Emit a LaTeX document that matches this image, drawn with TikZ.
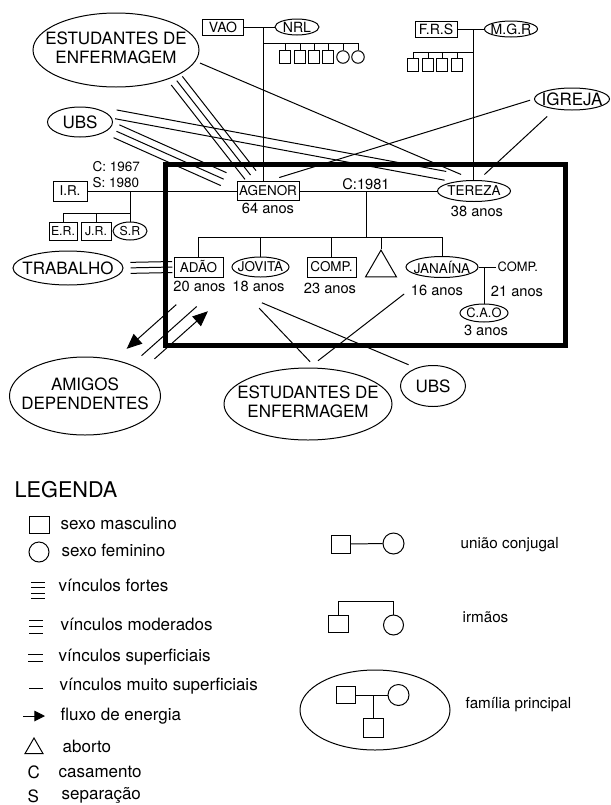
\documentclass[tikz,border=0pt]{standalone}
\usepackage{fontspec}
\setmainfont{TeX Gyre Heros}
\usetikzlibrary{calc,shapes.geometric,arrows.meta}

\newcommand\zw[1]{\makebox[0pt]{#1}}
\newcommand\vinc[4][]{\foreach \o in {#2}{\draw[#1] ($(#3)!\o!90:(#4)$) -- ($(#4)!\o!-90:(#3)$);}}

\begin{document}
\begin{tikzpicture}[x=0.03cm,y=-0.03cm,line width=0.85pt,
    tam/.style 2 args={minimum width=#1*0.03cm,minimum height=#2*0.03cm},
    masc/.style={draw,rectangle,inner sep=0pt},
    fem/.style={draw,ellipse,inner sep=0pt},
    ext/.style={draw,ellipse,inner sep=0pt,font=\fontsize{14.5}{16.2}\selectfont},
    nome/.style={font=\fontsize{11.5}{12}\selectfont},
    idade/.style={inner sep=1pt,font=\fontsize{12.5}{13}\selectfont},
    filho/.style={draw,rectangle,inner sep=0pt,tam={11}{13}},
    filha/.style={draw,circle,inner sep=0pt,minimum size=12.5*0.03cm},
    leg/.style={anchor=west,inner sep=1pt,font=\fontsize{14.5}{16}\selectfont},
    legd/.style={anchor=west,inner sep=1pt,font=\fontsize{13}{14}\selectfont},
    fluxo/.style={-{Triangle[length=13pt,width=11pt]}}]
  \useasboundingbox (0,0) rectangle (611,805);

  % Moldura
  \draw[line width=3.6pt] (165.5,164.5) rectangle (565.5,345.5);

  % Familia principal
  \node[masc,nome,tam={62}{19}] (agenor) at (268,191) {AGENOR};
  \node[idade] (a64) at (268,208.5) {64 anos};
  \node[fem,nome,tam={73}{21}] (tereza) at (474,191) {\zw{TEREZA}};
  \node[idade] (a38) at (477,211) {38 anos};
  \draw (agenor) -- (tereza);
  \node[idade] (c81) at (366,184) {C:1981};
  \coordinate (m1) at (366,191);
  \coordinate (m2) at (366,237);
  \draw (m1) -- (m2);

  \node[masc,nome,tam={49}{20}] (adao) at (198.5,267) {ADÃO};
  \node[idade] (a20) at (199.5,286.7) {20 anos};
  \node[fem,nome,tam={57}{20}] (jovita) at (260.5,267) {\zw{JOVITA}};
  \node[idade] (a18) at (258.5,286.7) {18 anos};
  \node[masc,nome,tam={49}{20}] (comp) at (331.5,267) {COMP.};
  \node[idade] (a23) at (330,288) {23 anos};
  \node[draw,regular polygon,regular polygon sides=3,inner sep=0pt,
        minimum size=35.8*0.03cm] (ab) at (381,268) {};
  \node[fem,nome,tam={72}{21}] (janaina) at (442,267) {\zw{JANAÍNA}};
  \node[idade] (a16) at (437,290) {16 anos};
  \draw (adao.north |- m2) -- (janaina.north |- m2);
  \foreach \n in {adao,jovita,comp,ab,janaina}
    \draw (\n.north) -- (\n.north |- m2);

  \node[idade,anchor=west,font=\fontsize{11}{12}\selectfont] (compt) at (496,267) {COMP.};
  \node[idade] (a21) at (517,291.7) {21 anos};
  \draw (janaina) -- (compt);
  \coordinate (j1) at (484,267);
  \node[fem,tam={48}{18},font=\fontsize{11}{12}\selectfont] (cao) at (484,313) {\zw{C.A.O}};
  \node[idade] (a3) at (486,330) {3 anos};
  \draw (j1) -- (cao.north);

  % Familia de Agenor
  \node[masc,tam={41}{16},font=\fontsize{12}{12}\selectfont] (vao) at (223,27) {VAO};
  \node[fem,tam={44}{16},font=\fontsize{12}{12}\selectfont] (nrl) at (297,27) {\zw{NRL}};
  \draw (vao) -- (nrl);
  \coordinate (v1) at (263,27);
  \coordinate (v2) at (263,43);
  \draw (v1) -- (v1 |- agenor.north);
  \foreach \x/\t in {285/filho,300/filho,314/filho,328/filho,343/filha,358/filha}{
    \node[\t] (n\x) at (\x,57) {};
    \draw (n\x.north) -- (n\x.north |- v2);
  }
  \draw (v2) -- (n358.north |- v2);

  % Familia de Tereza
  \node[masc,tam={42}{16},font=\fontsize{12}{12}\selectfont] (frs) at (436,29) {F.R.S};
  \node[fem,tam={53}{16},font=\fontsize{12}{12}\selectfont] (mgr) at (511,29) {\zw{M.G.R}};
  \draw (frs) -- (mgr);
  \coordinate (f1) at (473,29);
  \coordinate (f2) at (473,52);
  \draw (f1) -- (f1 |- tereza.north);
  \foreach \x in {413,428,442,457}{
    \node[filho] (r\x) at (\x,64.5) {};
    \draw (r\x.north) -- (r\x.north |- f2);
  }
  \draw (f2) -- (r413.north |- f2);

  % Primeira uniao de Agenor
  \node[masc,nome,tam={34}{20}] (ir) at (70,191) {I.R.};
  \node[idade,anchor=west,font=\fontsize{11.5}{12}\selectfont] (c67) at (91,166.5) {C: 1967};
  \node[idade,anchor=west,font=\fontsize{11.5}{12}\selectfont] (s80) at (91,183) {S: 1980};
  \draw (ir) -- (agenor);
  \coordinate (i1) at (130,191);
  \coordinate (i2) at (130,213);
  \node[masc,tam={28}{18},font=\fontsize{10.5}{11}\selectfont] (er) at (63,231) {E.R.};
  \node[masc,tam={30}{18},font=\fontsize{10.5}{11}\selectfont] (jr) at (96,231) {J.R.};
  \node[fem,tam={34}{18},font=\fontsize{10.5}{11}\selectfont] (sr) at (130,231) {\zw{S.R}};
  \draw (i1) -- (sr.north);
  \draw (er.north |- i2) -- (i2);
  \draw (er.north) -- (er.north |- i2);
  \draw (jr.north) -- (jr.north |- i2);

  % Rede externa
  \node[ext,tam={166}{74}] (est1) at (116,50)
    {\zw{\begin{tabular}{@{}c@{}}ESTUDANTES DE\\ENFERMAGEM\end{tabular}}};
  \node[ext,tam={65}{30}] (ubs1) at (80,122) {\zw{UBS}};
  \node[ext,tam={75}{22}] (igreja) at (572,99) {\zw{IGREJA}};
  \node[ext,tam={110}{34}] (trab) at (68,268) {\zw{TRABALHO}};
  \node[ext,tam={151}{78}] (amigos) at (85,396)
    {\zw{\begin{tabular}{@{}c@{}}AMIGOS\\DEPENDENTES\end{tabular}}};
  \node[ext,tam={168}{72}] (est2) at (308,404)
    {\zw{\begin{tabular}{@{}c@{}}ESTUDANTES DE\\ENFERMAGEM\end{tabular}}};
  \node[ext,tam={65}{41}] (ubs2) at (433,386) {\zw{UBS}};

  % Vinculos
  \vinc[shorten <=4pt,shorten >=6.5pt]{-6pt,0pt,6pt}{est1.-25}{agenor.142}
  \vinc[shorten <=6pt,shorten >=12pt]{-6pt,0pt,6pt}{ubs1.-12}{agenor.169}
  \vinc[shorten <=8.5pt,shorten >=20pt]{-3.8pt,3.8pt}{ubs1.20}{tereza.117}
  \draw[shorten <=4pt,shorten >=12pt] (est1.-8) -- (tereza.north);
  \draw[shorten <=3.5pt,shorten >=10pt] (igreja.west) -- (agenor.north);
  \draw[shorten <=9pt,shorten >=7pt] (igreja.211) -- (tereza.68);
  \vinc[shorten <=6pt,shorten >=1pt]{-4.7pt,0pt,4.7pt}{trab.east}{adao.west}
  \draw[shorten <=17pt,shorten >=7pt] (a18.208) -- (est2.78);
  \draw[shorten <=20pt,shorten >=7pt] (a18.201) -- (ubs2.133);
  \draw[shorten <=5.5pt,shorten >=9.4pt] (a16.west) -- (est2.88);

  % Fluxo de energia
  \draw[fluxo,shorten <=28.4pt,shorten >=6pt]
    ($(a20.-31)!12.8pt!-90:(amigos.34)$) -- ($(amigos.34)!12.8pt!90:(a20.-31)$);
  \draw[shorten <=16.5pt,shorten >=11.6pt] (a20.-31) -- (amigos.34);
  \draw[fluxo,shorten <=18pt,shorten >=12pt]
    ($(amigos.34)!9.4pt!-90:(a20.-31)$) -- ($(a20.-31)!9.4pt!90:(amigos.34)$);

  % Legenda
  \node[leg,font=\fontsize{18.5}{20}\selectfont] (tit) at (13,490) {LEGENDA};
  \node[draw,inner sep=0pt,tam={20}{17}] (lm) at (39,525) {};
  \node[leg] at (59,523) {sexo masculino};
  \node[draw,circle,inner sep=0pt,minimum size=20*0.03cm] (lf) at (39,552) {};
  \node[leg] at (60,550) {sexo feminino};
  \foreach \y in {582,587.5,593,598.5} \draw (31,\y) -- (45,\y);
  \node[leg] at (57,585) {vínculos fortes};
  \foreach \y in {620,626.5,633} \draw (29,\y) -- (43,\y);
  \node[leg] at (59,624) {vínculos moderados};
  \foreach \y in {654,661} \draw (28,\y) -- (43,\y);
  \node[leg] at (57,657) {vínculos superficiais};
  \draw (29,688) -- (43,688);
  \node[leg] at (58,686) {vínculos muito superficiais};
  \draw[-{Triangle[length=9pt,width=9pt]}] (23,716) -- (45,716);
  \node[leg] at (59,716) {fluxo de energia};
  \node[draw,regular polygon,regular polygon sides=3,inner sep=0pt,
        minimum size=20.8*0.03cm] (la) at (34,748.4) {};
  \node[leg] at (61,746) {aborto};
  \node[leg] at (26,772) {C};
  \node[leg] at (57,772) {casamento};
  \node[leg] at (26,796) {S};
  \node[leg] at (60,795) {separação};

  \node[draw,inner sep=0pt,tam={19}{18}] (uq) at (340.5,544) {};
  \node[draw,circle,inner sep=0pt,minimum size=21*0.03cm] (uc) at (393.5,543.5) {};
  \draw (uq) -- (uc);
  \node[legd] at (459,545) {união conjugal};

  \node[draw,inner sep=0pt,tam={20}{17}] (iq) at (338,623.5) {};
  \node[draw,circle,inner sep=0pt,minimum size=20*0.03cm] (ic) at (393.5,625) {};
  \draw (iq.north) -- ++(0,-13) -| (ic.north);
  \node[legd] at (461,617) {irmãos};

  \node[draw,ellipse,tam={150}{80}] (fam) at (375,710) {};
  \node[draw,inner sep=0pt,tam={19}{17}] (fq) at (345.5,695) {};
  \node[draw,circle,inner sep=0pt,minimum size=21*0.03cm] (fc) at (398.5,695) {};
  \draw (fq) -- (fc);
  \node[draw,inner sep=0pt,tam={20}{19}] (ff) at (373,727.5) {};
  \draw (ff.north) -- (ff.north |- fq);
  \node[legd] at (464,705) {família principal};
\end{tikzpicture}
\end{document}
